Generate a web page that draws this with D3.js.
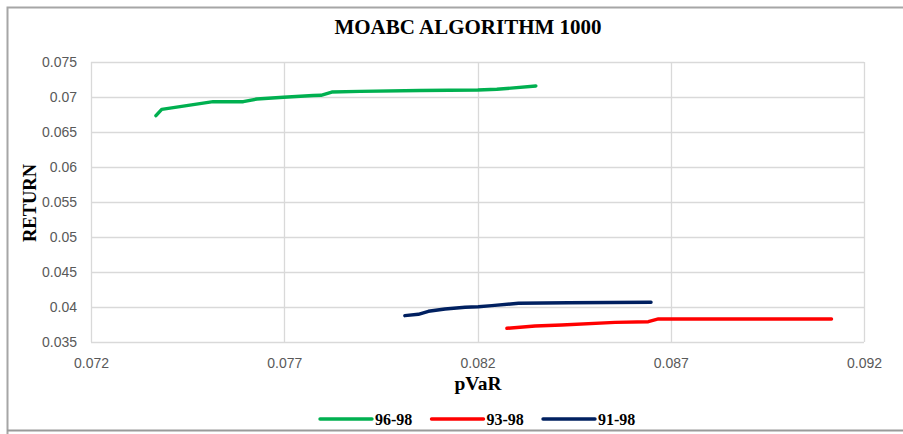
<html>
  <head>
    <meta charset="utf-8">
  </head>
<body style="margin:0;background:#fff">
<script src="https://cdn.jsdelivr.net/npm/d3@7/dist/d3.min.js"></script>
<script>
	var width = 903;
	var height = 434;

	// data
	var seriesNames = ["96-98", "93-98", "91-98"];
	var seriesColors = ["#00B050", "#FF0000", "#002060"];
	var pvar9698 = [0.07368, 0.07383, 0.07516, 0.07594, 0.07629, 0.07698, 0.07775, 0.07795, 0.07823, 0.07896, 0.08051, 0.08201, 0.08250, 0.08351];
	var ret9698  = [0.06733, 0.06824, 0.06933, 0.06933, 0.06971, 0.06996, 0.07021, 0.07024, 0.07071, 0.07081, 0.07093, 0.07100, 0.07110, 0.07157];
	var pvar9398 = [0.08276, 0.08349, 0.08418, 0.08556, 0.08642, 0.08668, 0.09116];
	var ret9398  = [0.03696, 0.03729, 0.03743, 0.03781, 0.03790, 0.03829, 0.03829];
	var pvar9198 = [0.08012, 0.08047, 0.08073, 0.08116, 0.08168, 0.08202, 0.08237, 0.08306, 0.08435, 0.08649];
	var ret9198  = [0.03876, 0.03896, 0.03939, 0.03971, 0.03996, 0.04004, 0.04019, 0.04053, 0.04061, 0.04067];
	var xTicks = [0.072, 0.077, 0.082, 0.087, 0.092];
	var yTicks = [0.035, 0.04, 0.045, 0.05, 0.055, 0.06, 0.065, 0.07, 0.075];

	var series = [
		{name: seriesNames[0], color: seriesColors[0], xs: pvar9698, ys: ret9698},
		{name: seriesNames[1], color: seriesColors[1], xs: pvar9398, ys: ret9398},
		{name: seriesNames[2], color: seriesColors[2], xs: pvar9198, ys: ret9198}
	];

	var svg = d3.select("body").append("svg")
		.attr("width", width)
		.attr("height", height);

	// outer chart frame
	svg.append("path")
		.attr("d", "M7.5,440 L7.5,7.5 L910,7.5")
		.attr("fill", "none").attr("stroke", "#A6A6A6").attr("stroke-width", 2);
	svg.append("line")
		.attr("x1", 7).attr("x2", 910).attr("y1", 430.5).attr("y2", 430.5)
		.attr("stroke", "#9A9A9A").attr("stroke-width", 2);

	var x = d3.scaleLinear().domain([0.072, 0.092]).range([91, 864]);
	var y = d3.scaleLinear().domain([0.035, 0.075]).range([342, 62]);

	// gridlines
	svg.append("g").selectAll("line").data(yTicks).enter().append("line")
		.attr("x1", 91).attr("x2", 864)
		.attr("y1", function(d){ return Math.round(y(d)) + 0.5; })
		.attr("y2", function(d){ return Math.round(y(d)) + 0.5; })
		.attr("stroke", "#D9D9D9").attr("stroke-width", 1.3);
	svg.append("g").selectAll("line").data(xTicks).enter().append("line")
		.attr("y1", 62).attr("y2", 342)
		.attr("x1", function(d){ return Math.round(x(d)) + 0.5; })
		.attr("x2", function(d){ return Math.round(x(d)) + 0.5; })
		.attr("stroke", "#D9D9D9").attr("stroke-width", 1.3);

	// axes (labels only, lines come from the grid)
	var xAxis = svg.append("g")
		.attr("transform", "translate(0,342)")
		.call(d3.axisBottom(x).tickValues(xTicks).tickSize(0).tickPadding(16)
			.tickFormat(function(d){ return String(+d.toFixed(3)); }));
	var yAxis = svg.append("g")
		.attr("transform", "translate(91,0)")
		.call(d3.axisLeft(y).tickValues(yTicks).tickSize(0).tickPadding(14)
			.tickFormat(function(d){ return String(+d.toFixed(3)); }));
	[xAxis, yAxis].forEach(function(a){
		a.select(".domain").remove();
		a.selectAll("text")
			.style("font-family", "'Liberation Sans', Arial, sans-serif")
			.style("font-size", "14px")
			.attr("fill", "#595959");
	});

	// lines
	var line = d3.line()
		.x(function(d){ return x(d[0]); })
		.y(function(d){ return y(d[1]); });
	svg.append("g").selectAll("path").data(series).enter().append("path")
		.attr("d", function(s){ return line(d3.zip(s.xs, s.ys)); })
		.attr("fill", "none")
		.attr("stroke", function(s){ return s.color; })
		.attr("stroke-width", 3.4)
		.attr("stroke-linecap", "round")
		.attr("stroke-linejoin", "round");

	// titles
	var serif = "'Liberation Serif', 'Times New Roman', serif";
	svg.append("text")
		.attr("x", 468).attr("y", 34)
		.attr("text-anchor", "middle")
		.style("font-family", serif).style("font-weight", "bold").style("font-size", "21px")
		.text("MOABC ALGORITHM 1000");
	svg.append("text")
		.attr("x", 478).attr("y", 390)
		.attr("text-anchor", "middle")
		.style("font-family", serif).style("font-weight", "bold").style("font-size", "19.5px")
		.text("pVaR");
	svg.append("text")
		.attr("transform", "translate(36,203) rotate(-90)")
		.attr("text-anchor", "middle")
		.style("font-family", serif).style("font-weight", "bold").style("font-size", "18.5px")
		.text("RETURN");

	// legend
	var legend = svg.append("g").selectAll("g").data(series).enter().append("g")
		.attr("transform", function(d, i){ return "translate(" + (320 + i * 111.5) + ",419)"; });
	legend.append("line")
		.attr("x1", 0).attr("x2", 52).attr("y1", 0).attr("y2", 0)
		.attr("stroke", function(d){ return d.color; })
		.attr("stroke-width", 3.4)
		.attr("stroke-linecap", "round");
	legend.append("text")
		.attr("x", 55).attr("y", 5.5)
		.style("font-family", serif).style("font-weight", "bold").style("font-size", "16px")
		.text(function(d){ return d.name; });
</script>
</body>
</html>
